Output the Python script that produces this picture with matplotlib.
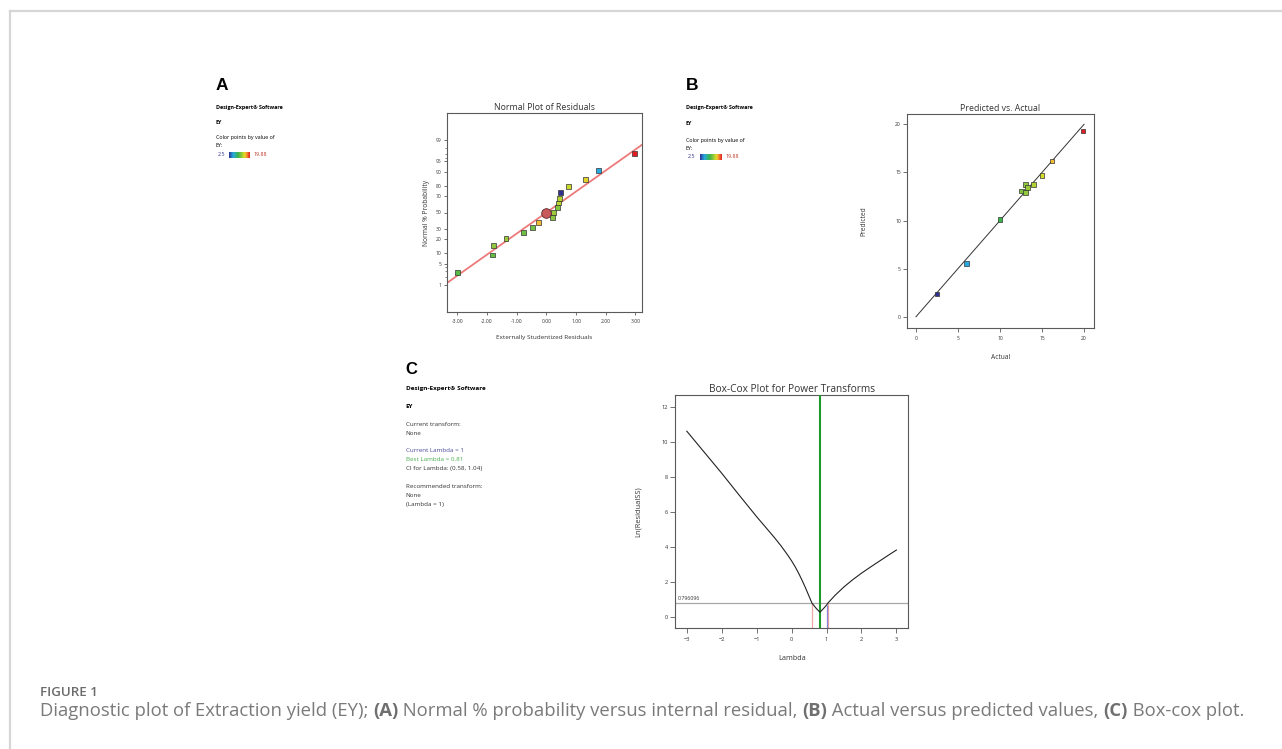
import numpy as np
import matplotlib
matplotlib.use('Agg')
import matplotlib.pyplot as plt
from matplotlib.colors import LinearSegmentedColormap
from statistics import NormalDist

W, H = 1282, 749

# ---------------- data ----------------
# Panel A: normal plot of residuals
residuals = [-3.00, -1.81, -1.79, -1.36, -0.77, -0.48, -0.27, 0.20, 0.24, 0.375,
             0.41, 0.43, 0.47, 0.75, 1.33, 1.76, 2.98]
norm_prob = [2.8, 8.7, 14.3, 20.0, 25.8, 32.0, 37.9, 43.6, 50.0, 56.0,
             62.0, 67.6, 73.5, 79.4, 85.3, 91.2, 97.1]
ey_a = [11.0, 11.5, 13.0, 13.3, 11.8, 12.0, 16.2, 12.8, 13.3, 12.6,
        14.3, 14.0, 2.5, 14.6, 15.4, 6.0, 19.88]
fit_slope = 0.672           # z per residual unit
anchor_point = (0.0, 50.0)
prob_ticks = [1, 5, 10, 20, 30, 50, 70, 80, 90, 95, 99]
prob_minor = [2, 3, 4, 96, 97, 98]
resid_ticks = [-3, -2, -1, 0, 1, 2, 3]

# Panel B: predicted vs actual
actual = [2.5, 6.03, 10.0, 12.58, 13.06, 13.06, 13.25, 13.97, 15.0, 16.19, 19.88]
predicted = [2.36, 5.55, 10.12, 13.07, 12.89, 13.76, 13.45, 13.76, 14.66, 16.19, 19.3]
pa_ticks = [0, 5, 10, 15, 20]

# Panel C: Box-Cox
lambdas = [-3, -2.5, -2, -1.5, -1, -0.5, -0.3, -0.1, 0.0, 0.1, 0.2, 0.3, 0.4, 0.5,
           0.58, 0.7, 0.81, 0.92, 1.0, 1.04, 1.25, 1.5, 1.75, 2.0, 2.25, 2.5, 2.75, 3.0]
ln_rss = [10.6, 9.4, 8.2, 6.95, 5.72, 4.55, 4.05, 3.5, 3.2, 2.87, 2.5, 2.09, 1.65, 1.18,
          0.8, 0.5, 0.27, 0.5, 0.68, 0.8, 1.25, 1.72, 2.13, 2.5, 2.84, 3.17, 3.5, 3.82]
ci_threshold = 0.796096
best_lambda = 0.81
current_lambda = 1.0
ci_low, ci_high = 0.58, 1.04
lam_ticks = [-3, -2, -1, 0, 1, 2, 3]
lnrss_ticks = [0, 2, 4, 6, 8, 10, 12]

ey_min, ey_max = 2.5, 19.88

# ---------------- style ----------------
plt.rcParams['font.family'] = ['Open Sans', 'DejaVu Sans']
cmap = LinearSegmentedColormap.from_list(
    'de', [(0.0, '#2e3192'), (0.2, '#27aae1'), (0.43, '#39b54a'),
           (0.6, '#8dc63f'), (0.72, '#d7df23'), (0.8, '#f7b733'),
           (1.0, '#e31c24')])
norm = plt.Normalize(ey_min, ey_max)

fig = plt.figure(figsize=(W / 100, H / 100), dpi=100)


def fx(px):
    return px / W


def fy(py):
    return 1 - py / H


def rect(x0, y0, x1, y1):
    return [fx(x0), fy(y1), (x1 - x0) / W, (y1 - y0) / H]


SPINE = '#5a5a5a'
TXT = '#333333'


def style_axes(ax, tick_size, length=2.6, pad=1.5):
    for s in ax.spines.values():
        s.set_color(SPINE)
        s.set_linewidth(0.8)
    ax.tick_params(direction='out', length=length, width=0.6, color=SPINE,
                   labelsize=tick_size, labelcolor=TXT, pad=pad)


# page border
fig.add_artist(plt.Line2D([fx(10), fx(10)], [fy(11), 0], color='#d6d6d6', lw=1.6))
fig.add_artist(plt.Line2D([fx(10), 1], [fy(11), fy(11)], color='#d6d6d6', lw=1.6))

# ---------------- Panel A ----------------
fig.text(fx(216), fy(85), 'A', fontsize=12.5, fontweight='bold',
         family='Liberation Sans', va='center', ha='left')
fig.text(fx(216), fy(107.7), 'Design-Expert® Software', fontsize=3.9,
         fontweight='bold', va='center')
fig.text(fx(216), fy(122.3), 'EY', fontsize=3.9, fontweight='bold', va='center')
fig.text(fx(216), fy(137.7), 'Color points by value of', fontsize=3.9, va='center')
fig.text(fx(216), fy(145.5), 'EY:', fontsize=3.9, va='center')
fig.text(fx(218), fy(155), '2.5', fontsize=3.9, va='center', color='#2e3192')
fig.text(fx(253), fy(155), '19.88', fontsize=3.9, va='center', color='#c0392b')
cax = fig.add_axes(rect(229.3, 152.3, 249.3, 157.7))
cax.imshow(np.linspace(0, 1, 256)[None, :], aspect='auto', cmap=cmap)
cax.set_axis_off()

nd = NormalDist()
_fwd = np.vectorize(lambda v: nd.inv_cdf(min(max(v, 1e-9), 100 - 1e-9) / 100.0), otypes=[float])
_inv = np.vectorize(lambda z: nd.cdf(z) * 100.0, otypes=[float])

axA = fig.add_axes(rect(446.7, 113.3, 642, 311.7))
axA.set_yscale('function', functions=(lambda p: _fwd(np.asarray(p, float)),
                                      lambda z: _inv(np.asarray(z, float))))
axA.set_xlim(-3.36, 3.22)
axA.set_ylim(_inv(-3.17), _inv(3.17))
xl = np.array(axA.get_xlim())
axA.plot(xl, _inv(fit_slope * xl), color='#ec7a7a', lw=1.3, zorder=2)
axA.scatter(residuals, norm_prob, c=ey_a, cmap=cmap, norm=norm, marker='s',
            s=12, edgecolors='#333333', linewidths=0.5, zorder=3)
axA.scatter([anchor_point[0]], [anchor_point[1]], s=48, color='#c85a5a',
            edgecolors='#5a2a2a', linewidths=0.6, zorder=4)
axA.set_yticks(prob_ticks)
axA.set_yticklabels([str(t) for t in prob_ticks])
axA.set_yticks(prob_minor, minor=True)
axA.yaxis.set_minor_formatter(plt.NullFormatter())
axA.tick_params(axis='y', which='minor', length=1.5, width=0.5, color=SPINE)
axA.set_xticks(resid_ticks)
axA.set_xticklabels(['%.2f' % t if t != 0 else '0.00' for t in resid_ticks])
style_axes(axA, 3.6, length=2.4, pad=1.2)
axA.tick_params(axis='x', pad=3.0)
axA.set_title('Normal Plot of Residuals', fontsize=6.3, color=TXT, pad=2.5)
axA.set_xlabel('Externally Studentized Residuals', fontsize=4.6, color=TXT, labelpad=8)
axA.set_ylabel('Normal % Probability', fontsize=4.8, color=TXT, labelpad=4)

# ---------------- Panel B ----------------
fig.text(fx(686), fy(85), 'B', fontsize=12.5, fontweight='bold',
         family='Liberation Sans', va='center', ha='left')
fig.text(fx(686), fy(107.7), 'Design-Expert® Software', fontsize=3.9,
         fontweight='bold', va='center')
fig.text(fx(686), fy(123.5), 'EY', fontsize=3.9, fontweight='bold', va='center')
fig.text(fx(686), fy(140.7), 'Color points by value of', fontsize=3.9, va='center')
fig.text(fx(686), fy(148.5), 'EY:', fontsize=3.9, va='center')
fig.text(fx(688), fy(157), '2.5', fontsize=3.9, va='center', color='#2e3192')
fig.text(fx(725), fy(157), '19.88', fontsize=3.9, va='center', color='#c0392b')
cax2 = fig.add_axes(rect(700, 154.3, 721.7, 159.7))
cax2.imshow(np.linspace(0, 1, 256)[None, :], aspect='auto', cmap=cmap)
cax2.set_axis_off()

axB = fig.add_axes(rect(906.7, 114.3, 1093.7, 327.7))
axB.set_xlim(-1.1, 21.15)
axB.set_ylim(-1.14, 21.04)
axB.plot([pa_ticks[0], pa_ticks[-1]], [pa_ticks[0], pa_ticks[-1]],
         color='#333333', lw=0.7, zorder=2)
axB.scatter(actual, predicted, c=actual, cmap=cmap, norm=norm, marker='s',
            s=12, edgecolors='#333333', linewidths=0.5, zorder=3)
axB.set_xticks(pa_ticks)
axB.set_yticks(pa_ticks)
style_axes(axB, 3.6, length=2.6, pad=1.5)
axB.tick_params(axis='x', pad=3.5)
axB.set_title('Predicted vs. Actual', fontsize=6.3, color=TXT, pad=2.5)
axB.set_xlabel('Actual', fontsize=4.8, color=TXT, labelpad=9)
axB.set_ylabel('Predicted', fontsize=4.8, color=TXT, labelpad=20)

# ---------------- Panel C ----------------
fig.text(fx(405.5), fy(369.5), 'C', fontsize=12, fontweight='bold',
         family='Liberation Sans', va='center', ha='left')
fig.text(fx(405.7), fy(388.7), 'Design-Expert® Software', fontsize=4.6,
         fontweight='bold', va='center')
fig.text(fx(405.7), fy(406.3), 'EY', fontsize=4.5, fontweight='bold', va='center')
c_lines = [
    (424.7, 'Current transform:', '#333333'),
    (433.3, 'None', '#333333'),
    (450.7, 'Current Lambda = %g' % current_lambda, '#4b4b9e'),
    (459.3, 'Best Lambda = %g' % best_lambda, '#4caf50'),
    (468.7, 'CI for Lambda: (%g, %g)' % (ci_low, ci_high), '#333333'),
    (486.7, 'Recommended transform:', '#333333'),
    (495.3, 'None', '#333333'),
    (504.3, '(Lambda = %g)' % current_lambda, '#333333'),
]
for yy, s, c in c_lines:
    fig.text(fx(405.7), fy(yy), s, fontsize=4.5, va='center', color=c)

axC = fig.add_axes(rect(675.3, 395.3, 908.3, 628.3))
axC.set_xlim(-3.33, 3.34)
axC.set_ylim(-0.645, 12.65)
ybot = axC.get_ylim()[0]
axC.axhline(ci_threshold, color='#a8a8a8', lw=0.9, zorder=1)
axC.text(-3.27, ci_threshold + 0.12, '%.6f' % ci_threshold, fontsize=3.8,
         color=TXT, va='bottom', ha='left')
axC.vlines([ci_low, ci_high], ybot, ci_threshold, color='#f2a6a6', lw=0.9, zorder=2)
axC.vlines([current_lambda], ybot, np.interp(current_lambda, lambdas, ln_rss),
           color='#8a86d8', lw=0.9, zorder=2)
axC.axvline(best_lambda, color='#1e9a2a', lw=1.5, zorder=3)
axC.plot(lambdas, ln_rss, color='#222222', lw=0.8, zorder=4)
axC.set_xticks(lam_ticks)
axC.set_yticks(lnrss_ticks)
style_axes(axC, 4.1, length=3.6, pad=1.8)
axC.tick_params(axis='x', pad=3.0)
axC.set_title('Box-Cox Plot for Power Transforms', fontsize=7.3, color=TXT, pad=2.5)
axC.set_xlabel('Lambda', fontsize=5.2, color=TXT, labelpad=9)
axC.set_ylabel('Ln(ResidualSS)', fontsize=5.4, color=TXT, labelpad=14)

# ---------------- caption ----------------
fig.text(fx(40), fy(693), 'FIGURE 1', fontsize=9.6, fontweight='semibold',
         color='#6b6b6b', va='center')
cap_parts = [('Diagnostic plot of Extraction yield (EY); ', 'normal'),
             ('(A)', 'bold'), (' Normal % probability versus internal residual, ', 'normal'),
             ('(B)', 'bold'), (' Actual versus predicted values, ', 'normal'),
             ('(C)', 'bold'), (' Box-cox plot.', 'normal')]
renderer = fig.canvas.get_renderer()
cap_x0, cap_x1 = 40, 1245


def draw_caption(size, keep):
    xcur = fx(cap_x0)
    arts = []
    for s, w in cap_parts:
        t = fig.text(xcur, fy(711), s, fontsize=size, fontweight=w,
                     color='#6f6f6f' if w == 'bold' else '#7a7a7a', va='center')
        bb = t.get_window_extent(renderer=renderer)
        xcur += bb.width / W
        arts.append(t)
    if not keep:
        for a in arts:
            a.remove()
    return xcur * W - cap_x0


wtest = draw_caption(11, keep=False)
draw_caption(11 * (cap_x1 - cap_x0) / wtest, keep=True)

fig.savefig('out.png', dpi=100)
